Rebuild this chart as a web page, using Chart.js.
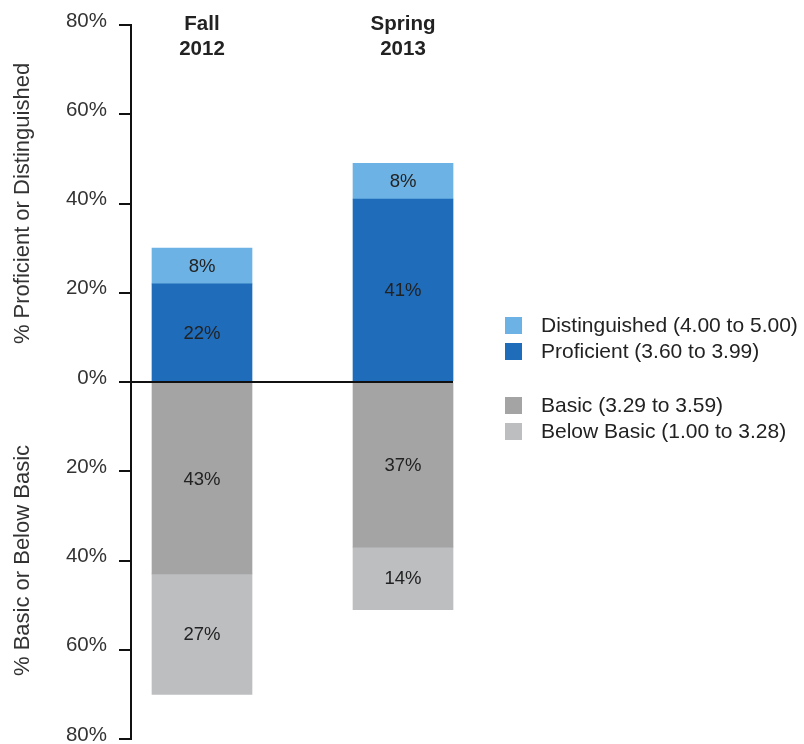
<!DOCTYPE html>
<html>
<head>
<meta charset="utf-8">
<script src="https://cdn.jsdelivr.net/npm/chart.js@4.4.1/dist/chart.umd.min.js"></script>
<style>
  html, body { margin: 0; padding: 0; background: #fff; }
  #wrap { position: relative; width: 804px; height: 744px; }
  #legend {
    position: absolute; left: 505px; top: 312px;
    font-family: 'Liberation Sans', Arial, sans-serif; font-size: 21px; color: #222;
  }
  #legend .item { display: flex; align-items: center; height: 26px; white-space: nowrap; }
  #legend .item.gap { margin-top: 28px; }
  #legend .box { width: 17px; height: 17px; margin-right: 19px; flex: none; }
</style>
</head>
<body>
<div id="wrap">
  <canvas id="chart"></canvas>
  <div id="legend"></div>
</div>
<script>
// categories and values (percent of students)
const categories = ['Fall 2012', 'Spring 2013'];
const distinguished = [8, 8];
const proficient = [22, 41];
const basic = [43, 37];
const belowBasic = [27, 14];
const yTicks = [-80, -60, -40, -20, 0, 20, 40, 60, 80];
const topTitle = '% Proficient or Distinguished';
const bottomTitle = '% Basic or Below Basic';

const FONT = "'Liberation Sans', Arial, sans-serif";

// bars sit on a linear index axis: category i is drawn at x = i + 1
function toPoints(values, sign) {
    return values.map((v, i) => ({ x: i + 1, y: sign * v }));
}

// zero line, value labels and the two half-axis titles
const extrasPlugin = {
    id: 'extras',
    afterDatasetsDraw(chart) {
        const { ctx, chartArea, scales } = chart;
        const y = scales.y;
        ctx.save();

        // zero line from axis to the right edge of the last bar
        let right = chartArea.left;
        chart.getDatasetMeta(0).data.forEach(bar => {
            right = Math.max(right, bar.x + bar.width / 2);
        });
        const y0 = y.getPixelForValue(0);
        ctx.strokeStyle = '#111';
        ctx.lineWidth = 2;
        ctx.beginPath();
        ctx.moveTo(chartArea.left, y0);
        ctx.lineTo(right, y0);
        ctx.stroke();

        // value labels in the middle of each segment
        ctx.fillStyle = '#222';
        ctx.font = '18.5px ' + FONT;
        ctx.textAlign = 'center';
        ctx.textBaseline = 'middle';
        chart.data.datasets.forEach((ds, i) => {
            chart.getDatasetMeta(i).data.forEach((bar, j) => {
                const v = Math.abs(ds.data[j].y);
                ctx.fillText(v + '%', bar.x, (bar.y + bar.base) / 2 + 1);
            });
        });

        // axis titles, one for each half
        ctx.fillStyle = '#333';
        ctx.font = '22px ' + FONT;
        [[topTitle, 40], [bottomTitle, -40]].forEach(([text, v]) => {
            ctx.save();
            ctx.translate(23, y.getPixelForValue(v));
            ctx.rotate(-Math.PI / 2);
            ctx.fillText(text, 0, 0);
            ctx.restore();
        });
        ctx.restore();
    }
};

const ctx = document.getElementById('chart').getContext('2d');
const chart = new Chart(ctx, {
    type: 'bar',
    data: {
        datasets: [
            { label: 'Proficient (3.60 to 3.99)', data: toPoints(proficient, 1), backgroundColor: 'rgb(30,108,186)' },
            { label: 'Distinguished (4.00 to 5.00)', data: toPoints(distinguished, 1), backgroundColor: 'rgb(108,178,228)' },
            { label: 'Basic (3.29 to 3.59)', data: toPoints(basic, -1), backgroundColor: 'rgb(164,164,164)' },
            { label: 'Below Basic (1.00 to 3.28)', data: toPoints(belowBasic, -1), backgroundColor: 'rgb(189,190,192)' }
        ]
    },
    options: {
        responsive: true,
        maintainAspectRatio: false,
        animation: false,
        barThickness: 100,
        layout: { padding: { top: 25, bottom: 5, left: 0, right: 324 } },
        plugins: {
            tooltip: { enabled: false },
            legend: { display: false }
        },
        scales: {
            x: {
                type: 'linear',
                stacked: true,
                offset: false,
                min: 0.6468,
                max: 2.383,
                position: { y: 80 },
                grid: { display: false, offset: false },
                border: { display: false },
                afterBuildTicks(scale) {
                    scale.ticks = categories.map((c, i) => ({ value: i + 1 }));
                },
                afterFit(scale) {
                    scale.paddingLeft = 0;
                    scale.paddingRight = 0;
                },
                ticks: {
                    padding: -21,
                    color: '#222',
                    font: { family: FONT, size: 20.5, weight: 'bold' },
                    callback: (value) => {
                        const c = categories[value - 1];
                        return c ? c.split(' ') : '';
                    }
                }
            },
            y: {
                stacked: true,
                min: -80,
                max: 80,
                afterBuildTicks(scale) {
                    scale.ticks = yTicks.map(v => ({ value: v }));
                },
                afterFit(scale) {
                    scale.width = 131;
                    scale.paddingTop = 0;
                    scale.paddingBottom = 0;
                },
                grid: { drawOnChartArea: false, drawTicks: true, tickLength: 12, color: '#111', lineWidth: 2 },
                border: { display: true, color: '#111', width: 2 },
                ticks: {
                    padding: 12,
                    labelOffset: -4,
                    color: '#333',
                    font: { family: FONT, size: 20.5 },
                    callback: (value) => Math.abs(value) + '%'
                }
            }
        }
    },
    plugins: [extrasPlugin]
});

// legend: Distinguished above Proficient, then a gap, then Basic and Below Basic
const legendOrder = [1, 0, 2, 3];
const legendEl = document.getElementById('legend');
legendOrder.forEach((di, k) => {
    const ds = chart.data.datasets[di];
    const item = document.createElement('div');
    item.className = 'item' + (k === 2 ? ' gap' : '');
    const box = document.createElement('span');
    box.className = 'box';
    box.style.background = ds.backgroundColor;
    const label = document.createElement('span');
    label.textContent = ds.label;
    item.appendChild(box);
    item.appendChild(label);
    legendEl.appendChild(item);
});
</script>
</body>
</html>
